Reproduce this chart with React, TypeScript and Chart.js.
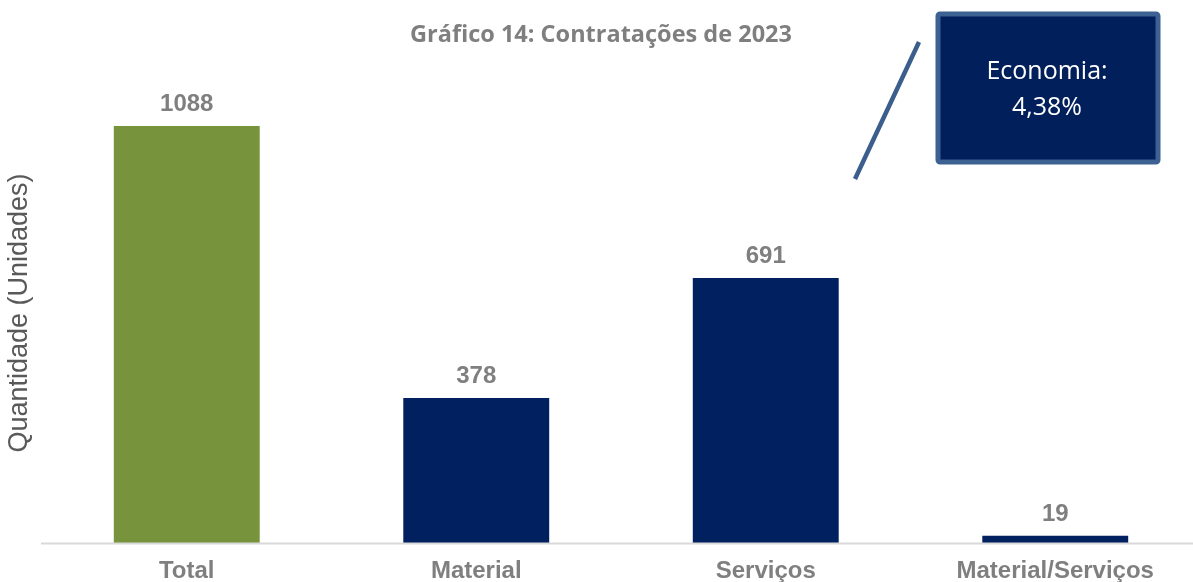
import { useEffect, useRef } from "react";
import { Chart, registerables } from "chart.js";

Chart.register(...registerables);

const categories = ["Total", "Material", "Serviços", "Material/Serviços"];
const quantities = [1088, 378, 691, 19];
const barColors = ["#77933c", "#002060", "#002060", "#002060"];
const chartTitle = "Gráfico 14: Contratações de 2023";
const yAxisTitle = "Quantidade (Unidades)";
const calloutLines = ["Economia:", "4,38%"];
const yMax = 1200;

const overlayPlugin = {
  id: "overlay",
  afterDatasetsDraw(chart: any) {
    const ctx = chart.ctx as CanvasRenderingContext2D;
    const meta = chart.getDatasetMeta(0);
    const { left, top, bottom } = chart.chartArea;
    ctx.save();

    // chart title
    ctx.font = "bold 23.5px 'Open Sans', sans-serif";
    ctx.fillStyle = "#7f7f7f";
    ctx.textAlign = "center";
    ctx.textBaseline = "middle";
    ctx.fillText(chartTitle, 601, 35);

    // value labels
    ctx.font = "bold 24px 'Liberation Sans', Arial, sans-serif";
    ctx.fillStyle = "#7f7f7f";
    ctx.textAlign = "center";
    ctx.textBaseline = "alphabetic";
    meta.data.forEach((el: any, i: number) => {
      ctx.fillText(String(quantities[i]), el.x, el.y - 15);
    });

    // category axis line
    ctx.strokeStyle = "#d9d9d9";
    ctx.lineWidth = 2;
    ctx.beginPath();
    ctx.moveTo(left - 1, bottom + 0.5);
    ctx.lineTo(chart.width, bottom + 0.5);
    ctx.stroke();

    // y axis title
    ctx.save();
    ctx.translate(20, (top + bottom) / 2);
    ctx.rotate(-Math.PI / 2);
    ctx.font = "27px 'Liberation Sans', Arial, sans-serif";
    ctx.fillStyle = "#595959";
    ctx.textAlign = "center";
    ctx.textBaseline = "middle";
    ctx.fillText(yAxisTitle, 0, 0);
    ctx.restore();

    // callout leader line
    ctx.strokeStyle = "#3b5e8c";
    ctx.lineWidth = 4.5;
    ctx.lineCap = "butt";
    ctx.beginPath();
    ctx.moveTo(919, 42);
    ctx.lineTo(855, 179);
    ctx.stroke();

    // callout box
    const bx = 938, by = 14, bw = 220, bh = 148;
    ctx.fillStyle = "#001f5b";
    ctx.strokeStyle = "#3d6190";
    ctx.lineWidth = 5;
    ctx.beginPath();
    if ((ctx as any).roundRect) (ctx as any).roundRect(bx, by, bw, bh, 2);
    else ctx.rect(bx, by, bw, bh);
    ctx.fill();
    ctx.stroke();

    ctx.fillStyle = "#ffffff";
    ctx.font = "25px 'Open Sans', Calibri, sans-serif";
    ctx.textAlign = "center";
    ctx.textBaseline = "middle";
    ctx.fillText(calloutLines[0], 1047, 72);
    ctx.fillText(calloutLines[1], 1047, 108);

    ctx.restore();
  },
};

export default function App() {
  const ref = useRef<HTMLCanvasElement | null>(null);

  useEffect(() => {
    if (!ref.current) return;
    const chart = new Chart(ref.current, {
      type: "bar",
      data: {
        labels: categories,
        datasets: [
          {
            data: quantities,
            backgroundColor: barColors,
            borderWidth: 0,
            barPercentage: 0.504,
            categoryPercentage: 1,
          },
        ],
      },
      options: {
        responsive: false,
        animation: false,
        layout: { padding: { left: 42, right: 0, top: 83, bottom: -17 } },
        plugins: {
          legend: { display: false },
          tooltip: { enabled: false },
          title: { display: false },
        },
        scales: {
          x: {
            grid: { display: false, drawTicks: false },
            border: { display: false },
            ticks: {
              color: "#7f7f7f",
              padding: 16,
              font: { family: "'Liberation Sans', Arial, sans-serif", weight: "bold", size: 24, lineHeight: 1 },
              maxRotation: 0,
              autoSkip: false,
            },
          },
          y: {
            display: false,
            min: 0,
            max: yMax,
          },
        },
      },
      plugins: [overlayPlugin],
    });
    return () => chart.destroy();
  }, []);

  return (
    <div
      style={{
        position: "fixed",
        left: 0,
        top: 0,
        width: 1193,
        height: 582,
        overflow: "hidden",
        background: "#ffffff",
      }}
    >
      <canvas ref={ref} width={1200} height={582} style={{ width: 1200, height: 582, display: "block" }} />
    </div>
  );
}
